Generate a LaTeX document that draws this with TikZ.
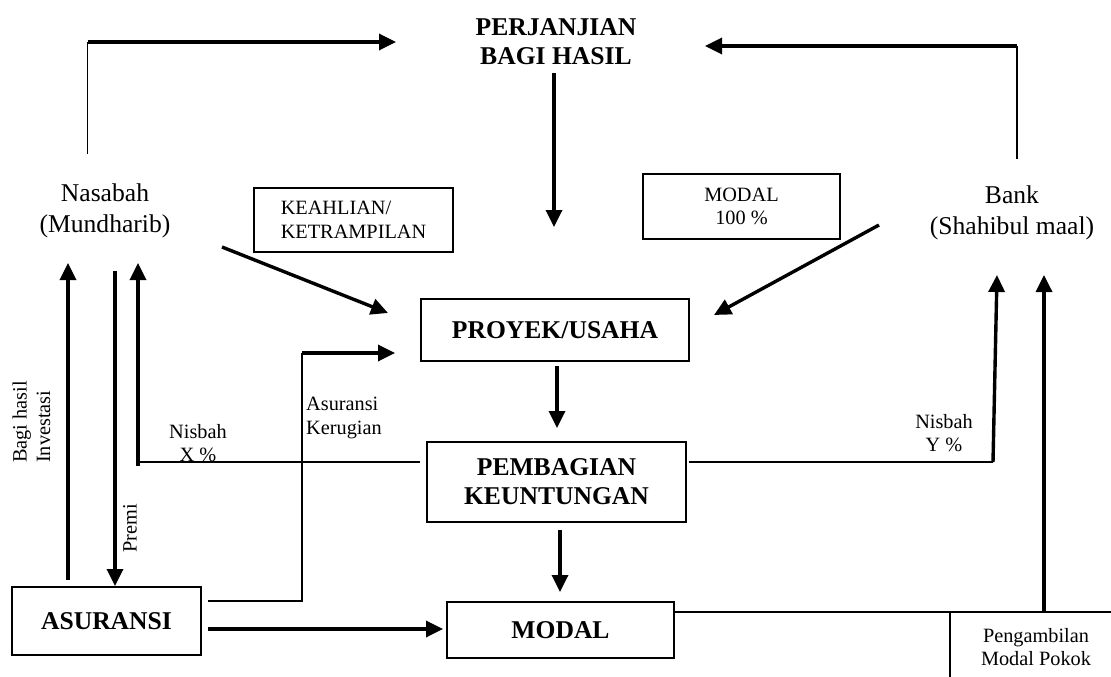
\documentclass[tikz,border=0pt]{standalone}
\usepackage{fontspec}
\setmainfont{Liberation Serif}
\usetikzlibrary{arrows.meta}
\tikzset{
  thickarr/.style={line width=3.4pt,-{Triangle[length=17pt,width=16pt]}},
  thinline/.style={line width=1.6pt},
  boxnode/.style={draw,line width=1.9pt,inner sep=0pt},
  bigbold/.style={font=\fontsize{25.6}{29}\selectfont\bfseries,align=center},
  bigreg/.style={font=\fontsize{25.6}{31}\selectfont,align=center,inner sep=0pt},
  smalltxt/.style={font=\fontsize{20.3}{23.5}\selectfont,inner sep=0pt},
}
\begin{document}
\begin{tikzpicture}[x=1pt,y=-1pt]
\useasboundingbox[fill=white] (0,0) rectangle (1111,677);

% text nodes
\node[bigbold,inner sep=0pt] (perj) at (556,42) {PERJANJIAN\\BAGI HASIL};
\node[bigreg] (nasabah) at (105,211) {Nasabah\\(Mundharib)};
\node[bigreg] (bank) at (1012,213) {Bank\\(Shahibul maal)};

% boxes
\node[boxnode,smalltxt,align=left,minimum width=199pt,minimum height=64pt] (keahlian) at (353.5,220) {KEAHLIAN/\\KETRAMPILAN};
\node[boxnode,smalltxt,align=center,minimum width=197pt,minimum height=65pt] (modalc) at (741.5,206.5) {MODAL\\100 \%};
\node[boxnode,bigbold,minimum width=268pt,minimum height=62pt] (proyek) at (555,330) {PROYEK/USAHA};
\node[boxnode,bigbold,minimum width=259pt,minimum height=80pt] (bagi) at (556.5,482) {PEMBAGIAN\\KEUNTUNGAN};
\node[boxnode,bigbold,minimum width=227pt,minimum height=56pt] (modal) at (560.5,630) {MODAL};
\node[boxnode,bigbold,minimum width=189pt,minimum height=68pt] (asuransi) at (106.5,621) {ASURANSI};

% labels
\node[smalltxt,rotate=90,anchor=west,align=left] (lblbagi) at (31.5,463) {Bagi hasil\\Investasi};
\node[smalltxt,rotate=90,anchor=west] (lblpremi) at (130,553) {Premi};
\node[smalltxt,align=center] (lblx) at (198,443) {Nisbah\\X \%};
\node[smalltxt,align=center] (lbly) at (944,433) {Nisbah\\Y \%};
\node[smalltxt,align=left,anchor=west] (lblasr) at (306,418) {Asuransi\\Kerugian};
\node[smalltxt,align=center] (lblpeng) at (1036,647) {Pengambilan\\Modal Pokok};

% coordinates
\coordinate (nTop) at (87.5,154);
\coordinate (nCorner) at (87.5,42);
\coordinate (perjL) at (396,42);
\coordinate (bTop) at (1017,159);
\coordinate (bCorner) at (1017,46);
\coordinate (perjR) at (705,46);
\coordinate (perjS) at (554,73);
\coordinate (perjT) at (554,227);
\coordinate (nOut) at (222,247);
\coordinate (proyIn1) at (388,313);
\coordinate (bOut) at (879,225);
\coordinate (proyIn2) at (714,315);
\coordinate (proyS) at (557,366);
\coordinate (bagiN) at (557,428);
\coordinate (bagiS) at (560,530);
\coordinate (modalN) at (560,592);
\coordinate (bagiInv) at (68,580);
\coordinate (nIn1) at (68,263);
\coordinate (premiS) at (115,271);
\coordinate (asrN) at (115,586);
\coordinate (bagiWL) at (420,462);
\coordinate (xCorner) at (138,462);
\coordinate (xStart) at (138,466);
\coordinate (nIn2) at (138,263);
\coordinate (bagiER) at (689,462);
\coordinate (yCorner) at (993,462);
\coordinate (bIn1) at (997,275);
\coordinate (modalE) at (674,612);
\coordinate (pCorner) at (1044,612);
\coordinate (bIn2) at (1044,275);
\coordinate (rEnd) at (1111,612);
\coordinate (pgTop) at (950,612);
\coordinate (pgBot) at (950,677);
\coordinate (asrE1) at (208,601);
\coordinate (kCorner1) at (302,601);
\coordinate (kCorner2) at (302,353);
\coordinate (proyIn3) at (395,353);
\coordinate (asrE2) at (208,629);
\coordinate (modalW) at (443,629);

% connectors
\draw[thinline] (nTop) -- (nCorner);
\draw[thickarr] (nCorner) -- (perjL);
\draw[thinline] (bTop) -- (bCorner);
\draw[thickarr] (bCorner) -- (perjR);
\draw[thickarr] (perjS) -- (perjT);
\draw[thickarr] (nOut) -- (proyIn1);
\draw[thickarr] (bOut) -- (proyIn2);
\draw[thickarr] (proyS) -- (bagiN);
\draw[thickarr] (bagiS) -- (modalN);
\draw[thickarr] (bagiInv) -- (nIn1);
\draw[thickarr] (premiS) -- (asrN);
\draw[thinline] (bagiWL) -- (xCorner);
\draw[thickarr] (xStart) -- (nIn2);
\draw[thinline] (bagiER) -- (yCorner);
\draw[thickarr] (yCorner) -- (bIn1);
\draw[thinline] (modalE) -- (rEnd);
\draw[thickarr] (pCorner) -- (bIn2);
\draw[thinline] (pgTop) -- (pgBot);
\draw[thinline] (asrE1) -- (kCorner1) -- (kCorner2);
\draw[thickarr] (kCorner2) -- (proyIn3);
\draw[thickarr] (asrE2) -- (modalW);
\end{tikzpicture}
\end{document}
